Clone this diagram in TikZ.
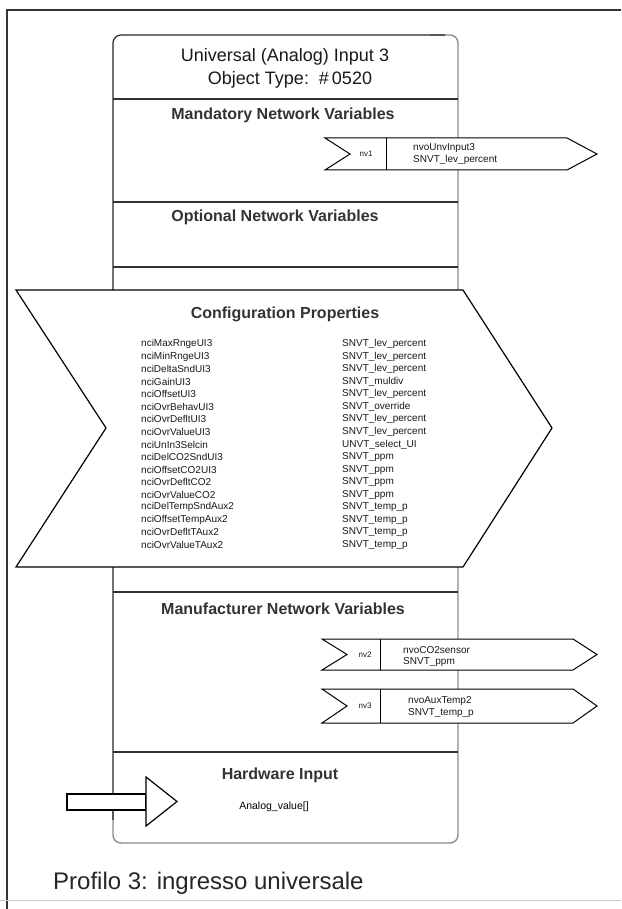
\documentclass[tikz,border=0pt]{standalone}
\usepackage{fontspec}
\setmainfont{Liberation Sans}
\begin{document}
\begin{tikzpicture}[x=1pt,y=-1pt,
  hdr/.style={font=\bfseries\fontsize{16}{18}\selectfont, text=black!80, inner sep=0pt},
  ttl/.style={font=\fontsize{18}{20}\selectfont, text=black!90, inner sep=0pt},
  small/.style={font=\fontsize{10}{12}\selectfont, text=black!90, inner sep=0pt, anchor=west},
  tag/.style={font=\fontsize{8}{9}\selectfont, text=black!90, inner sep=0pt},
  nvshape/.style={draw=black, fill=white, line width=1pt, line join=miter},
  divider/.style={line width=1.2pt, black!80},
]
\useasboundingbox (0,0) rectangle (621,909);

% outer frame
\draw[line width=2pt, black!80] (7,909) -- (7,10) -- (621,10);
\draw[black!20, line width=1pt] (0,900) -- (621,900);

% object box: right and bottom sides lighter
\draw[line width=1.4pt, black!45, rounded corners=8pt] (430,35) -- (458,35) -- (458,843) -- (113,843) -- (113,800);
\draw[line width=1.2pt, black!85, rounded corners=8pt] (113,820) -- (113,35) -- (445,35);

% section dividers
\foreach \yy in {99,202,267,592,752}
  \draw[divider] (113,\yy) -- (458,\yy);

% title
\node[ttl] (title1) at (285,57) {Universal (Analog) Input 3};
\node[ttl] (title2) at (290,80) {Object Type:\ \ \#\,0520};

% headers
\node[hdr] (mand) at (283,115) {Mandatory Network Variables};
\node[hdr] (opt) at (275,217) {Optional Network Variables};
\node[hdr] (manu) at (283,609) {Manufacturer Network Variables};
\node[hdr] (hw) at (280,775) {Hardware Input};

% mandatory variable nv1
\draw[nvshape] (325,138) -- (567,138) -- (597,154) -- (567,170) -- (325,170) -- (350,154) -- cycle;
\draw[line width=1pt] (386,138) -- (386,170);
\node[tag] (nv1) at (366,154) {nv1};
\node[small] (nv1a) at (413,148) {nvoUnvInput3};
\node[small] (nv1b) at (413,160) {SNVT\_lev\_percent};

% configuration properties chevron
\draw[nvshape, line width=1.2pt] (16,290) -- (463,290) -- (552,428) -- (463,567) -- (16,567) -- (106,428) -- cycle;
\node[hdr] (conf) at (285,314) {Configuration Properties};
\foreach \a/\b [count=\i from 0] in {
  nciMaxRngeUI3/SNVT\_lev\_percent,
  nciMinRngeUI3/SNVT\_lev\_percent,
  nciDeltaSndUI3/SNVT\_lev\_percent,
  nciGainUI3/SNVT\_muldiv,
  nciOffsetUI3/SNVT\_lev\_percent,
  nciOvrBehavUI3/SNVT\_override,
  nciOvrDefltUI3/SNVT\_lev\_percent,
  nciOvrValueUI3/SNVT\_lev\_percent,
  nciUnIn3Selcin/UNVT\_select\_UI,
  nciDelCO2SndUI3/SNVT\_ppm,
  nciOffsetCO2UI3/SNVT\_ppm,
  nciOvrDefltCO2/SNVT\_ppm,
  nciOvrValueCO2/SNVT\_ppm,
  nciDelTempSndAux2/SNVT\_temp\_p,
  nciOffsetTempAux2/SNVT\_temp\_p,
  nciOvrDefltTAux2/SNVT\_temp\_p,
  nciOvrValueTAux2/SNVT\_temp\_p}
{
  \node[small] (cpl\i) at (141,{344+12.56*\i}) {\a};
  \node[small] (cpr\i) at (342,{344+12.56*\i}) {\b};
}

% manufacturer variables nv2, nv3
\draw[nvshape] (322,639) -- (573,639) -- (597,654.5) -- (573,670) -- (322,670) -- (347,654.5) -- cycle;
\draw[line width=1pt] (380,639) -- (380,670);
\node[tag] (nv2) at (365,655) {nv2};
\node[small] (nv2a) at (403,650) {nvoCO2sensor};
\node[small] (nv2b) at (403,662) {SNVT\_ppm};

\draw[nvshape] (322,689) -- (573,689) -- (597,706) -- (573,723) -- (322,723) -- (347,706) -- cycle;
\draw[line width=1pt] (380,689) -- (380,723);
\node[tag] (nv3) at (365,706) {nv3};
\node[small] (nv3a) at (408,701) {nvoAuxTemp2};
\node[small] (nv3b) at (408,713) {SNVT\_temp\_p};

% hardware input arrow
\draw[fill=white, line width=1.2pt] (67,794) rectangle (146,810);
\draw[fill=white, line width=1.2pt, line join=miter] (146,777) -- (177,801.5) -- (146,826) -- cycle;
\node[font=\fontsize{10.5}{12}\selectfont, inner sep=0pt] (aval) at (274,807) {Analog\_value[]};

% caption
\node[font=\fontsize{24}{28}\selectfont, text=black!85, inner sep=0pt, anchor=west] (cap) at (53,883) {Profilo 3: ingresso universale};
\end{tikzpicture}
\end{document}
